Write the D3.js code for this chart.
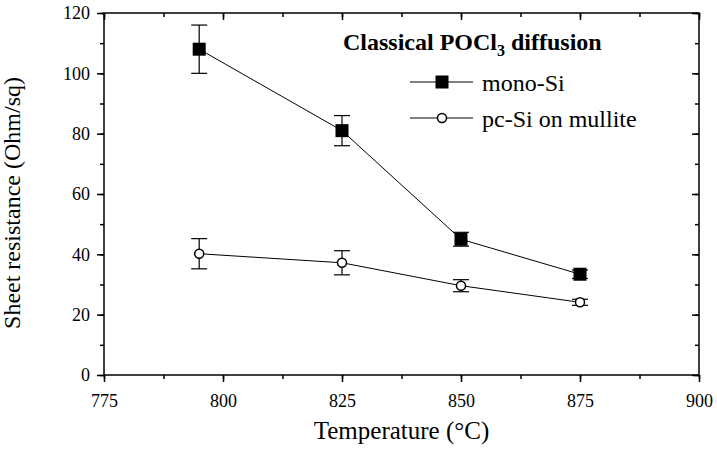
<!DOCTYPE html>
<html>
<head>
<meta charset="utf-8">
<script src="https://cdn.jsdelivr.net/npm/d3@7"></script>
<style>
  html, body { margin: 0; padding: 0; background: #fff; }
  svg text { font-family: "Liberation Serif", "Times New Roman", serif; fill: #000; }
</style>
</head>
<body>
<div id="chart"></div>
<script>
// temperatures (°C) and measured sheet resistance (Ohm/sq)
const temperatures = [795, 825, 850, 875];
const monoSi = [108, 81, 45, 33.4];
const monoSiErr = [8, 5, 2.3, 1.4];
const pcSi = [40.2, 37.2, 29.6, 24.1];
const pcSiErr = [5, 4, 2, 1];

const xTicks = [775, 800, 825, 850, 875, 900];
const yTicks = [0, 20, 40, 60, 80, 100, 120];

const W = 717, H = 454;
const M = { left: 104, right: 18, top: 13, bottom: 79 };
const SERIF = 'Liberation Serif';

const svg = d3.select('#chart').append('svg')
  .attr('width', W).attr('height', H)
  .attr('font-family', SERIF);

const x = d3.scaleLinear().domain([775, 900]).range([M.left, W - M.right]);
const y = d3.scaleLinear().domain([0, 120]).range([H - M.bottom, M.top]);

const xMinor = d3.range(775, 900.1, 12.5);
const yMinor = d3.range(0, 120.1, 10);

// frame: ticks outward on left/bottom, inward on top/right
function addAxis(g, axis, tx, ty) {
  return g.append('g').attr('transform', `translate(${tx},${ty})`).call(axis);
}

function drawAxes() {
  const g = svg.append('g').attr('class', 'axes');
  const majLen = 7, minLen = 4;

  // bottom
  addAxis(g, d3.axisBottom(x).tickValues(xMinor).tickSize(minLen).tickFormat(''), 0, y(0));
  addAxis(g, d3.axisBottom(x).tickValues(xTicks).tickSize(majLen).tickPadding(12).tickFormat(d3.format('d')), 0, y(0));
  // top (axisBottom ticks point down = inward)
  addAxis(g, d3.axisBottom(x).tickValues(xMinor).tickSize(minLen).tickFormat(''), 0, y(120));
  addAxis(g, d3.axisBottom(x).tickValues(xTicks).tickSize(majLen).tickFormat(''), 0, y(120));
  // left
  addAxis(g, d3.axisLeft(y).tickValues(yMinor).tickSize(minLen).tickFormat(''), x(775), 0);
  addAxis(g, d3.axisLeft(y).tickValues(yTicks).tickSize(majLen).tickPadding(7).tickFormat(d3.format('d')), x(775), 0);
  // right (axisLeft ticks point left = inward)
  addAxis(g, d3.axisLeft(y).tickValues(yMinor).tickSize(minLen).tickFormat(''), x(900), 0);
  addAxis(g, d3.axisLeft(y).tickValues(yTicks).tickSize(majLen).tickFormat(''), x(900), 0);

  g.selectAll('.domain').remove();
  g.selectAll('g').attr('font-family', SERIF).attr('font-size', 18);
  g.selectAll('.tick line').attr('stroke', '#000').attr('stroke-width', 1.5);
  g.selectAll('.tick text')
    .attr('fill', '#000')
    .attr('font-family', SERIF)
    .style('font-size', '18px');

  g.append('rect')
    .attr('x', x(775)).attr('y', y(120))
    .attr('width', x(900) - x(775)).attr('height', y(0) - y(120))
    .attr('fill', 'none').attr('stroke', '#000').attr('stroke-width', 1.5);
}
drawAxes();

// axis titles
svg.append('text')
  .attr('x', (x(775) + x(900)) / 2).attr('y', 439)
  .attr('text-anchor', 'middle')
  .attr('font-family', SERIF)
  .style('font-size', '25px')
  .text('Temperature (°C)');

svg.append('text')
  .attr('transform', `translate(20,${(y(0) + y(120)) / 2 + 9}) rotate(-90)`)
  .attr('text-anchor', 'middle')
  .attr('font-family', SERIF)
  .style('font-size', '24px')
  .text('Sheet resistance (Ohm/sq)');

const plot = svg.append('g');
const line = d3.line().x((d, i) => x(temperatures[i])).y(d => y(d));
const capW = 8;

function drawSeries(vals, errs, marker) {
  const g = plot.append('g');
  g.append('path').datum(vals)
    .attr('d', line).attr('fill', 'none').attr('stroke', '#000').attr('stroke-width', 1);

  const eb = g.selectAll('g.err').data(vals).enter().append('g').attr('class', 'err');
  eb.append('line')
    .attr('x1', (d, i) => x(temperatures[i])).attr('x2', (d, i) => x(temperatures[i]))
    .attr('y1', (d, i) => y(d + errs[i])).attr('y2', (d, i) => y(d - errs[i]));
  eb.append('line')
    .attr('x1', (d, i) => x(temperatures[i]) - capW).attr('x2', (d, i) => x(temperatures[i]) + capW)
    .attr('y1', (d, i) => y(d + errs[i])).attr('y2', (d, i) => y(d + errs[i]));
  eb.append('line')
    .attr('x1', (d, i) => x(temperatures[i]) - capW).attr('x2', (d, i) => x(temperatures[i]) + capW)
    .attr('y1', (d, i) => y(d - errs[i])).attr('y2', (d, i) => y(d - errs[i]));
  eb.selectAll('line').attr('stroke', '#000').attr('stroke-width', 1.2);

  g.selectAll('.mk').data(vals).enter()
    .append('g')
    .attr('transform', (d, i) => `translate(${x(temperatures[i])},${y(d)})`)
    .each(function() { marker(d3.select(this)); });
}

function square(sel) {
  sel.append('rect').attr('x', -6.5).attr('y', -6.5).attr('width', 13).attr('height', 13).attr('fill', '#000');
}
function circle(sel) {
  sel.append('circle').attr('r', 4.5).attr('fill', '#fff').attr('stroke', '#000').attr('stroke-width', 1.5);
}

drawSeries(monoSi, monoSiErr, square);
drawSeries(pcSi, pcSiErr, circle);

// legend
const legend = svg.append('g');
const title = legend.append('text')
  .attr('x', 343).attr('y', 50)
  .attr('font-family', SERIF)
  .style('font-size', '24px').style('font-weight', 'bold');
title.append('tspan').text('Classical POCl');
title.append('tspan').attr('dy', 6).style('font-size', '16px').text('3');
title.append('tspan').attr('dy', -6).text(' diffusion');

const entries = [
  { name: 'mono-Si', marker: square, y: 82 },
  { name: 'pc-Si on mullite', marker: circle, y: 118 }
];
entries.forEach(e => {
  legend.append('line').attr('x1', 410).attr('x2', 473).attr('y1', e.y).attr('y2', e.y)
    .attr('stroke', '#000').attr('stroke-width', 1);
  e.marker(legend.append('g').attr('transform', `translate(442,${e.y})`));
  legend.append('text').attr('x', 482).attr('y', e.y + 9)
    .attr('font-family', SERIF)
    .style('font-size', '24px').text(e.name);
});
</script>
</body>
</html>
